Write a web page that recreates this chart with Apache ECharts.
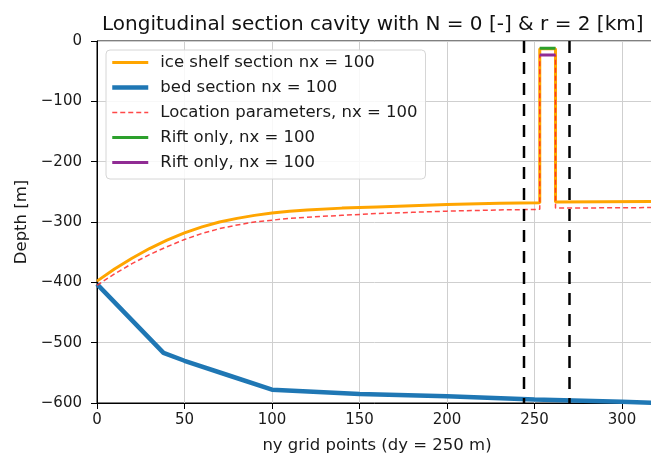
<!DOCTYPE html>
<html>
<head>
<meta charset="utf-8">
<script src="https://cdn.jsdelivr.net/npm/echarts@6/dist/echarts.min.js"></script>
<style>html,body{margin:0;padding:0;background:#fff;}#c{width:651px;height:454px;}</style>
</head>
<body>
<div id="c"></div>
<script>
// ---- data ----
var iceShelf = [[0,-398],[10,-378],[20,-360],[30,-344],[40,-330],[50,-318],[60,-308],[70,-300],[80,-294],[90,-289],[100,-285],[110,-282],[120,-280],[140,-277],[160,-275],[180,-273],[200,-271],[230,-269],[253,-268],[253,-13],[262,-13],[262,-267],[320,-266]];
var bed = [[0,-403],[38,-517],[50,-530],[75,-554],[100,-578],[150,-585],[200,-589],[250,-594],[300,-598],[320,-600]];
var locationParams = [[0,-405],[10,-386],[20,-369],[30,-354],[40,-341],[50,-329],[60,-319],[70,-311],[80,-305],[90,-300],[100,-297],[110,-294],[120,-292],[140,-289],[160,-286],[180,-284],[200,-282],[230,-280],[253,-279],[253,-23],[262,-23],[262,-277],[320,-276]];
var riftGreen = [[253,-12],[262,-12]];
var riftPurple = [[253,-23],[262,-23]];
var vlineA = [[244,0],[244,-600]];
var vlineB = [[270,0],[270,-600]];
var xTicks = [0,50,100,150,200,250,300];
var yTicks = [0,-100,-200,-300,-400,-500,-600];
var seriesNames = ['ice shelf section nx = 100','bed section nx = 100','Location parameters, nx = 100','Rift only, nx = 100','Rift only, nx = 100 '];

var FONT = 'DejaVu Sans';
function minus(v){ return String(v).replace('-', '\u2212'); }

var legendWidths = [3, 4.5, 1.5, 3, 3];
var chart = echarts.init(document.getElementById('c'), null, {renderer:'canvas'});
chart.setOption({
  animation: false,
  backgroundColor: '#fff',
  title: {
    text: 'Longitudinal section cavity with N = 0 [-] & r = 2 [km]',
    left: 97, top: 10,
    textStyle: {fontFamily: FONT, fontSize: 20, fontWeight: 'normal', color: '#111'}
  },
  legend: {
    orient: 'vertical', left: 106, top: 50,
    data: seriesNames.map(function(n, i){ return {name: n, lineStyle: {width: legendWidths[i]}}; }),
    itemWidth: 36, itemHeight: 14, itemGap: 8,
    padding: [4, 8, 8, 4],
    backgroundColor: 'rgba(255,255,255,0.85)',
    borderColor: '#d6d6d6', borderWidth: 1, borderRadius: 4,
    itemStyle: {opacity: 0},
    textStyle: {fontFamily: FONT, fontSize: 16.5, lineHeight: 17, color: '#1a1a1a', padding: [0,0,0,7]},
    formatter: function(n){ return n.trim(); }
  },
  grid: {left: 97, width: 560, top: 41, bottom: 51, outerBoundsMode: 'none', containLabel: false,
    show: true, borderColor: '#000', borderWidth: 1},
  xAxis: {
    type: 'value', min: 0, max: 320, interval: 50,
    name: 'ny grid points (dy = 250 m)', nameLocation: 'middle', nameGap: 34,
    nameTextStyle: {fontFamily: FONT, fontSize: 16.5, color: '#1a1a1a'},
    axisLine: {show: true, onZero: false, lineStyle: {color: '#000', width: 1}},
    axisTick: {show: true, length: 6, lineStyle: {color: '#000'}},
    axisLabel: {fontFamily: FONT, fontSize: 15, color: '#1a1a1a', margin: 10,
      formatter: function(v){ return xTicks.indexOf(v) >= 0 ? minus(v) : ''; }},
    splitLine: {show: true, lineStyle: {color: '#cfcfcf', width: 1}}
  },
  yAxis: {
    type: 'value', min: -600, max: 0, interval: 100,
    name: 'Depth [m]', nameLocation: 'middle', nameGap: 66, nameRotate: 90,
    nameTextStyle: {fontFamily: FONT, fontSize: 16.5, color: '#1a1a1a'},
    axisLine: {show: true, onZero: false, lineStyle: {color: '#000', width: 1}},
    axisTick: {show: true, length: 6, lineStyle: {color: '#000'}},
    axisLabel: {fontFamily: FONT, fontSize: 15, color: '#1a1a1a', margin: 15,
      formatter: function(v){ return yTicks.indexOf(v) >= 0 ? minus(v) : ''; }},
    splitLine: {show: true, lineStyle: {color: '#cfcfcf', width: 1}}
  },
  series: [
    {name: seriesNames[0], type: 'line', data: iceShelf, symbol: 'none', z: 2,
      lineStyle: {color: '#ffa500', width: 3}, itemStyle: {color: '#ffa500'}},
    {name: seriesNames[1], type: 'line', data: bed, symbol: 'none', z: 3,
      lineStyle: {color: '#1f77b4', width: 4.5}, itemStyle: {color: '#1f77b4'}},
    {name: seriesNames[2], type: 'line', data: locationParams, symbol: 'none', z: 4,
      lineStyle: {color: 'rgba(255,40,40,0.85)', width: 1.5, type: [5,3]}, itemStyle: {color: '#ff3030'}},
    {name: seriesNames[3], type: 'line', data: riftGreen, symbol: 'none', z: 5,
      lineStyle: {color: '#2ca02c', width: 3}, itemStyle: {color: '#2ca02c'}},
    {name: seriesNames[4], type: 'line', data: riftPurple, symbol: 'none', z: 6,
      lineStyle: {color: '#902c94', width: 3}, itemStyle: {color: '#902c94'}},
    {name: 'vA', type: 'line', data: vlineA, symbol: 'none', z: 7, silent: true,
      lineStyle: {color: '#000', width: 2.5, type: [12,9]}},
    {name: 'vB', type: 'line', data: vlineB, symbol: 'none', z: 7, silent: true,
      lineStyle: {color: '#000', width: 2.5, type: [12,9]}}
  ]
});
</script>
</body>
</html>
